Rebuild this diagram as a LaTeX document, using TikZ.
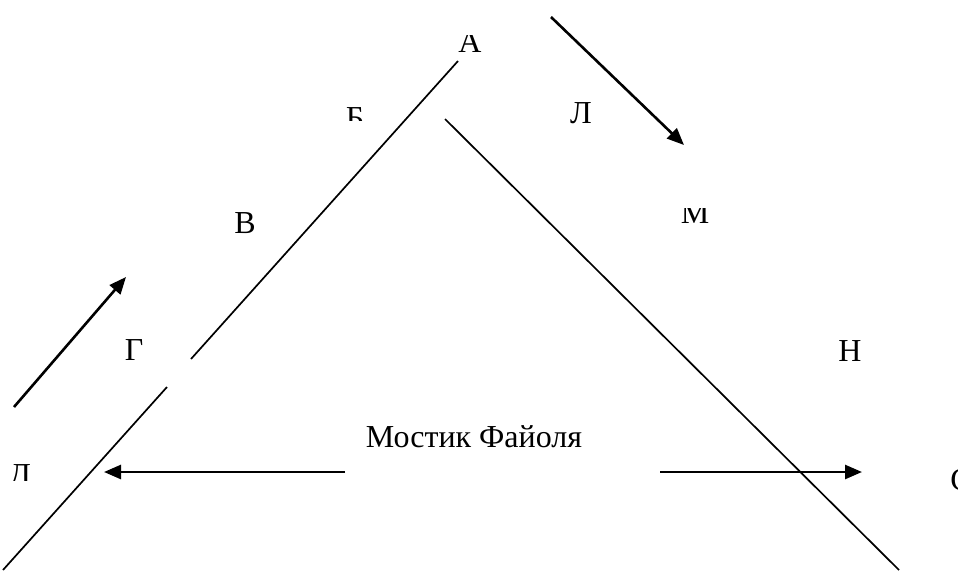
\documentclass[tikz,border=0pt]{standalone}
\usepackage{fontspec}
\setmainfont{Liberation Serif}
\usetikzlibrary{arrows.meta}
\begin{document}
\begin{tikzpicture}[x=1pt,y=-1pt,
  lbl/.style={anchor=base, inner sep=0pt, font=\fontsize{32}{38}\selectfont},
  edge/.style={line width=1.7pt},
  arr/.style={line width=2.6pt, -{Triangle[length=17pt,width=14pt]}}]
\useasboundingbox (0,0) rectangle (966,570);
% triangle sides
\coordinate (L1a) at (458,61);  \coordinate (L1b) at (191,359);
\coordinate (L2a) at (167,387); \coordinate (L2b) at (3,570);
\coordinate (R1a) at (445,119); \coordinate (R1b) at (899,570);
\draw[edge] (L1a) -- (L1b);
\draw[edge] (L2a) -- (L2b);
\draw[edge] (R1a) -- (R1b);
% arrows
\coordinate (A1s) at (551,17);  \coordinate (A1e) at (684,145);
\coordinate (A2s) at (14,407);  \coordinate (A2e) at (126,277);
\coordinate (A3s) at (345,472); \coordinate (A3e) at (104,472);
\coordinate (A4s) at (660,472); \coordinate (A4e) at (862,472);
\draw[arr] (A1s) -- (A1e);
\draw[arr] (A2s) -- (A2e);
\draw[arr] (A3s) -- (A3e);
\draw[arr] (A4s) -- (A4e);
% labels
\begin{scope}
\clip (400,35) rectangle (520,80);
\node[lbl] (a) at (470,52) {А};
\end{scope}
\begin{scope}
\clip (320,80) rectangle (400,120);
\node[lbl] (b) at (355,128) {Б};
\end{scope}
\node[lbl] (l) at (581,123) {Л};
\node[lbl] (v) at (245,233) {В};
\begin{scope}
\clip (650,208) rectangle (740,250);
\node[lbl] (m) at (695,223) {М};
\end{scope}
\node[lbl] (g) at (134,360) {Г};
\node[lbl] (n) at (850,361) {Н};
\begin{scope}
\clip (0,440) rectangle (60,480);
\node[lbl] (d) at (20,485) {Д};
\end{scope}
\begin{scope}
\clip (930,440) rectangle (957,520);
\node[lbl] (s) at (961,490) {С};
\end{scope}
\node[lbl] (mf) at (474,447) {Мостик Файоля};
\end{tikzpicture}
\end{document}
